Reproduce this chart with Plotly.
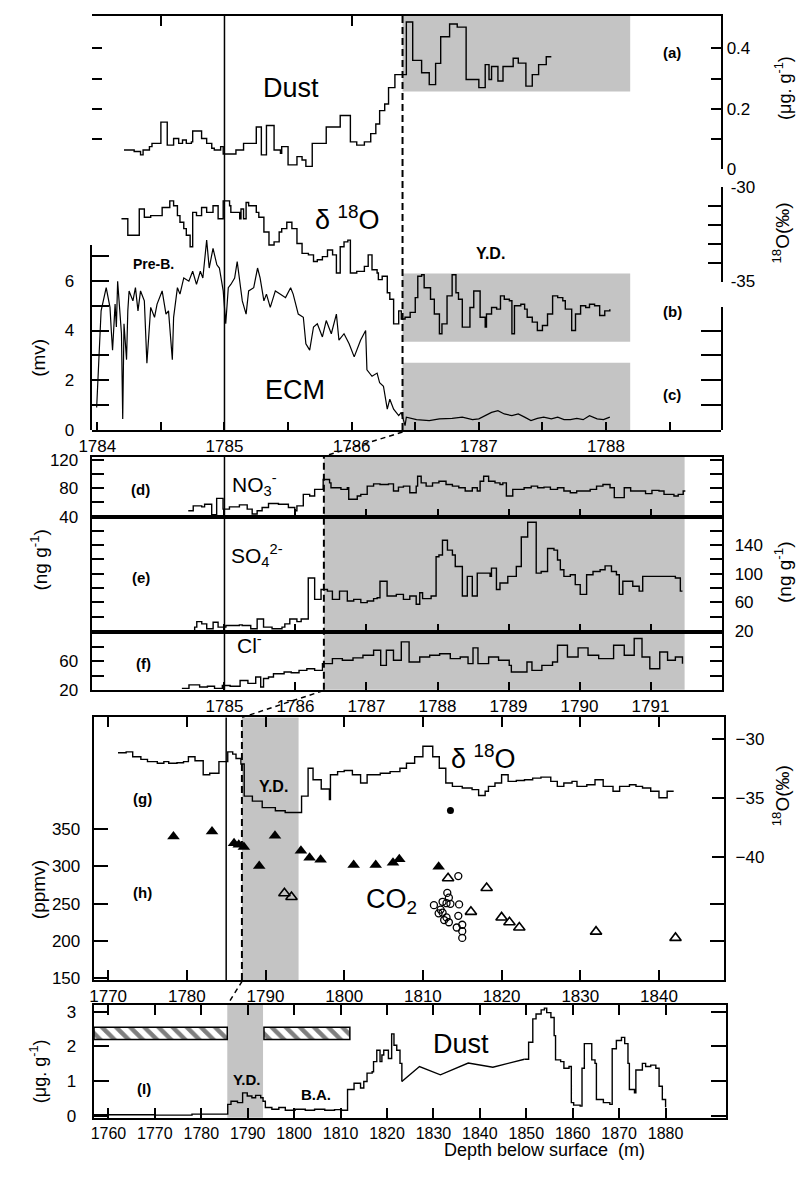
import plotly.graph_objects as go

W, H = 797, 1178
def fx(px): return px / W
def fy(py): return 1 - py / H

FONT = "Liberation Sans, Arial, Helvetica, sans-serif"
GRAY = "#c4c4c4"

# ---------------- (a) Dust, ug/g (step) ----------------
dust_a_depth = [1784.21, 1784.29, 1784.34, 1784.36, 1784.41, 1784.43, 1784.50, 1784.55, 1784.60, 1784.64,
                1784.67, 1784.70, 1784.74, 1784.75, 1784.82, 1784.86, 1784.90, 1784.92, 1784.97, 1784.99,
                1785.09, 1785.15, 1785.25, 1785.29, 1785.33, 1785.39, 1785.44, 1785.45, 1785.50, 1785.57,
                1785.61, 1785.64, 1785.69, 1785.80, 1785.91, 1785.99, 1786.04, 1786.10, 1786.15, 1786.19,
                1786.22, 1786.26, 1786.29, 1786.34, 1786.43, 1786.48, 1786.55, 1786.61, 1786.66, 1786.70,
                1786.77, 1786.83, 1786.90, 1787.00, 1787.05, 1787.08, 1787.10, 1787.15, 1787.19, 1787.27,
                1787.31, 1787.37, 1787.42, 1787.47, 1787.53, 1787.57]
dust_a_val = [0.064, 0.059, 0.048, 0.064, 0.075, 0.086, 0.156, 0.080, 0.102, 0.086,
              0.097, 0.086, 0.091, 0.127, 0.102, 0.086, 0.070, 0.064, 0.075, 0.051,
              0.064, 0.086, 0.140, 0.048, 0.145, 0.064, 0.053, 0.075, 0.015, 0.042,
              0.031, 0.010, 0.086, 0.140, 0.178, 0.091, 0.080, 0.091, 0.118, 0.150,
              0.194, 0.216, 0.270, 0.313, 0.487, 0.360, 0.319, 0.280, 0.350, 0.438,
              0.480, 0.470, 0.297, 0.270, 0.346, 0.297, 0.340, 0.292, 0.340, 0.367,
              0.351, 0.275, 0.313, 0.346, 0.372, 0.372]

# ---------------- (b) d18O (step) ----------------
d18o_b_depth = [1784.19, 1784.24, 1784.33, 1784.37, 1784.42, 1784.51, 1784.57, 1784.60, 1784.63, 1784.65,
                1784.68, 1784.70, 1784.73, 1784.75, 1784.78, 1784.82, 1784.86, 1784.91, 1784.95, 1784.99,
                1785.04, 1785.05, 1785.12, 1785.13, 1785.15, 1785.17, 1785.19, 1785.25, 1785.27, 1785.31,
                1785.35, 1785.39, 1785.43, 1785.45, 1785.49, 1785.53, 1785.57, 1785.61, 1785.66, 1785.70,
                1785.73, 1785.77, 1785.81, 1785.85, 1785.88, 1785.91, 1785.94, 1785.97, 1785.99, 1786.04,
                1786.10, 1786.13, 1786.16, 1786.20, 1786.21, 1786.24, 1786.28, 1786.30, 1786.33, 1786.37,
                1786.39, 1786.42, 1786.46, 1786.50, 1786.52, 1786.55, 1786.57, 1786.62, 1786.65, 1786.69,
                1786.71, 1786.75, 1786.79, 1786.82, 1786.84, 1786.87, 1786.93, 1786.96, 1787.01, 1787.05,
                1787.06, 1787.10, 1787.14, 1787.17, 1787.20, 1787.24, 1787.26, 1787.28, 1787.33, 1787.36,
                1787.38, 1787.42, 1787.46, 1787.50, 1787.54, 1787.58, 1787.62, 1787.66, 1787.68, 1787.73,
                1787.76, 1787.80, 1787.84, 1787.87, 1787.91, 1787.95, 1787.99, 1788.03]
d18o_b_val = [-31.68, -32.55, -31.16, -31.60, -31.51, -31.08, -30.73, -30.99, -31.51, -31.86,
              -32.20, -32.55, -33.16, -31.34, -31.51, -31.08, -31.34, -30.99, -31.68, -30.73,
              -30.99, -31.34, -31.68, -31.16, -31.68, -30.82, -30.99, -31.34, -31.60, -32.38,
              -33.07, -32.90, -32.38, -32.20, -31.86, -32.20, -32.99, -33.51, -33.59, -33.94,
              -33.85, -33.68, -33.33, -33.59, -34.55, -33.16, -32.90, -32.81, -34.55, -34.46,
              -34.20, -33.59, -34.38, -34.55, -34.90, -34.72, -35.59, -35.94, -37.24, -36.55,
              -36.98, -36.89, -36.63, -35.85, -34.72, -34.64, -35.33, -35.94, -36.72, -37.76,
              -37.24, -35.76, -34.64, -35.59, -35.94, -37.41, -36.37, -35.50, -36.89, -37.41,
              -36.72, -36.37, -36.46, -35.76, -35.94, -36.02, -37.76, -36.28, -36.20, -36.46,
              -36.89, -37.15, -37.59, -37.33, -36.72, -35.76, -35.85, -36.02, -36.46, -37.59,
              -36.72, -36.28, -36.37, -36.20, -36.28, -36.80, -36.55, -36.46]

# ---------------- (c) ECM, mV ----------------
ecm_depth = [1783.995, 1784.03, 1784.07, 1784.10, 1784.11, 1784.12, 1784.14, 1784.15, 1784.16, 1784.17,
             1784.19, 1784.20, 1784.21, 1784.23, 1784.24, 1784.25, 1784.28, 1784.30, 1784.32, 1784.34,
             1784.37, 1784.39, 1784.42, 1784.45, 1784.47, 1784.51, 1784.54, 1784.56, 1784.59, 1784.60,
             1784.63, 1784.65, 1784.68, 1784.72, 1784.75, 1784.78, 1784.81, 1784.83, 1784.86, 1784.88,
             1784.91, 1784.94, 1784.96, 1784.99, 1785.01, 1785.03, 1785.05, 1785.08, 1785.10, 1785.14,
             1785.17, 1785.19, 1785.23, 1785.26, 1785.28, 1785.31, 1785.33, 1785.36, 1785.40, 1785.44,
             1785.48, 1785.52, 1785.54, 1785.58, 1785.62, 1785.64, 1785.67, 1785.70, 1785.73, 1785.77,
             1785.80, 1785.84, 1785.88, 1785.90, 1785.94, 1785.98, 1786.02, 1786.07, 1786.11, 1786.12,
             1786.16, 1786.20, 1786.22, 1786.25, 1786.28, 1786.30, 1786.33, 1786.37, 1786.39, 1786.42,
             1786.43, 1786.51, 1786.61, 1786.69, 1786.79, 1786.87, 1786.95, 1787.00, 1787.05, 1787.10,
             1787.15, 1787.20, 1787.26, 1787.31, 1787.36, 1787.41, 1787.46, 1787.51, 1787.57, 1787.62,
             1787.67, 1787.72, 1787.77, 1787.82, 1787.87, 1787.93, 1787.98, 1788.03]
ecm_val = [0.91, 4.79, 5.72, 4.93, 4.00, 3.21, 5.06, 4.14, 5.98, 5.19,
           3.87, 0.45, 4.27, 2.83, 4.79, 5.59, 5.19, 5.72, 4.79, 5.59,
           5.19, 2.69, 4.93, 4.53, 5.06, 5.59, 4.66, 4.79, 2.83, 4.53,
           5.72, 5.46, 6.11, 5.98, 6.38, 5.85, 6.38, 6.11, 7.63, 6.51,
           7.30, 6.64, 6.51, 5.59, 4.27, 5.72, 5.85, 6.11, 6.77, 5.19,
           4.66, 5.59, 5.72, 6.51, 6.11, 5.19, 5.46, 4.93, 5.59, 5.46,
           5.32, 5.72, 5.46, 4.66, 4.53, 3.47, 3.21, 4.14, 4.27, 3.74,
           4.40, 3.87, 4.66, 3.61, 3.87, 3.47, 2.94, 3.61, 4.00, 2.42,
           2.16, 2.29, 1.90, 1.76, 0.84, 1.24, 0.84, 0.58, 0.71, 0.18,
           0.52, 0.42, 0.38, 0.45, 0.47, 0.52, 0.42, 0.45, 0.58, 0.71,
           0.78, 0.65, 0.58, 0.65, 0.52, 0.38, 0.47, 0.52, 0.45, 0.52,
           0.42, 0.42, 0.47, 0.42, 0.58, 0.45, 0.42, 0.52]

# ---------------- (d) NO3-, ng/g (step) ----------------
no3_depth = [1784.49, 1784.56, 1784.68, 1784.72, 1784.82, 1784.89, 1784.98, 1785.07, 1785.21, 1785.32,
             1785.39, 1785.46, 1785.53, 1785.62, 1785.76, 1785.90, 1785.99, 1786.02, 1786.11, 1786.20,
             1786.27, 1786.39, 1786.48, 1786.50, 1786.64, 1786.73, 1786.75, 1786.87, 1786.92, 1787.01,
             1787.10, 1787.19, 1787.31, 1787.38, 1787.45, 1787.52, 1787.61, 1787.70, 1787.72, 1787.77,
             1787.84, 1787.93, 1788.02, 1788.12, 1788.21, 1788.30, 1788.39, 1788.49, 1788.56, 1788.60,
             1788.65, 1788.72, 1788.81, 1788.88, 1788.92, 1788.97, 1789.06, 1789.22, 1789.32, 1789.41,
             1789.50, 1789.59, 1789.69, 1789.78, 1789.87, 1789.96, 1790.15, 1790.24, 1790.33, 1790.43,
             1790.49, 1790.63, 1790.72, 1790.93, 1791.02, 1791.12, 1791.19, 1791.33, 1791.39, 1791.46,
             1791.49]
no3_val = [48.3, 55.2, 53.8, 57.5, 42.8, 65.7, 50.6, 53.8, 56.6, 50.6,
           43.7, 48.3, 52.9, 58.4, 57.5, 52.9, 48.3, 55.2, 71.3, 69.0,
           78.2, 92.0, 87.4, 80.5, 78.2, 80.5, 64.4, 69.0, 71.3, 82.8,
           86.0, 85.1, 86.0, 75.9, 81.4, 82.8, 73.6, 82.8, 96.6, 87.4,
           82.8, 87.4, 89.7, 85.1, 82.8, 80.5, 75.9, 80.5, 75.9, 89.7,
           96.6, 89.7, 87.4, 85.1, 87.4, 69.0, 78.2, 80.5, 82.8, 80.5,
           81.4, 78.2, 80.5, 75.9, 73.6, 75.9, 78.2, 82.8, 85.1, 80.5,
           66.7, 80.5, 75.9, 72.3, 76.8, 75.9, 71.3, 69.0, 71.3, 75.9,
           75.9]

# ---------------- (e) SO4 2-, ng/g (step) ----------------
so4_depth = [1784.45, 1784.58, 1784.61, 1784.68, 1784.75, 1784.84, 1784.91, 1785.02, 1785.21, 1785.25,
             1785.37, 1785.46, 1785.55, 1785.67, 1785.81, 1785.85, 1785.92, 1786.02, 1786.08, 1786.18,
             1786.27, 1786.36, 1786.45, 1786.52, 1786.62, 1786.73, 1786.82, 1786.92, 1787.01, 1787.10,
             1787.15, 1787.19, 1787.29, 1787.42, 1787.52, 1787.61, 1787.70, 1787.75, 1787.79, 1787.91,
             1787.98, 1788.02, 1788.07, 1788.14, 1788.21, 1788.25, 1788.35, 1788.42, 1788.49, 1788.56,
             1788.74, 1788.76, 1788.83, 1788.88, 1788.99, 1789.11, 1789.18, 1789.27, 1789.39, 1789.46,
             1789.55, 1789.64, 1789.69, 1789.73, 1789.78, 1789.87, 1789.94, 1790.01, 1790.10, 1790.19,
             1790.29, 1790.36, 1790.45, 1790.52, 1790.56, 1790.61, 1790.75, 1790.84, 1790.89, 1791.35,
             1791.42, 1791.45]
so4_val = [19.5, 25.1, 32.9, 29.7, 22.8, 32.0, 25.1, 27.4, 28.3, 27.4,
           22.8, 36.6, 25.1, 22.8, 25.1, 29.7, 36.6, 32.9, 36.6, 94.0,
           64.1, 77.9, 75.6, 64.1, 75.6, 61.8, 64.1, 59.5, 61.8, 65.1,
           66.4, 89.4, 68.7, 71.0, 64.1, 68.7, 57.2, 73.3, 65.1, 68.7,
           123.9, 126.2, 146.9, 133.1, 126.2, 110.1, 68.7, 96.3, 68.7, 100.9,
           96.3, 107.8, 77.9, 87.1, 96.3, 110.1, 151.5, 172.2, 100.9, 103.2,
           135.4, 133.1, 119.3, 105.5, 96.3, 98.6, 84.8, 71.0, 98.6, 103.2,
           105.5, 111.0, 103.2, 98.6, 71.0, 89.4, 82.5, 75.6, 96.3, 94.0,
           75.6, 75.6]

# ---------------- (f) Cl-, ng/g (step) ----------------
cl_depth = [1784.40, 1784.50, 1784.65, 1784.76, 1784.86, 1784.97, 1785.08, 1785.22, 1785.33, 1785.44,
            1785.51, 1785.55, 1785.62, 1785.69, 1785.84, 1785.94, 1786.05, 1786.16, 1786.27, 1786.38,
            1786.52, 1786.66, 1786.81, 1786.95, 1787.10, 1787.20, 1787.28, 1787.38, 1787.49, 1787.60,
            1787.75, 1787.89, 1788.03, 1788.18, 1788.32, 1788.43, 1788.50, 1788.57, 1788.72, 1788.86,
            1789.01, 1789.04, 1789.26, 1789.33, 1789.47, 1789.62, 1789.69, 1789.83, 1789.98, 1790.12,
            1790.27, 1790.48, 1790.63, 1790.77, 1790.88, 1790.99, 1791.13, 1791.24, 1791.35, 1791.45]
cl_val = [22, 27, 24, 25, 22, 26, 25, 33, 29, 38,
          24, 36, 38, 42.6, 45, 44, 47.3, 49.6, 47.3, 56.7,
          63.7, 61.4, 64.8, 68.4, 75.5, 54.3, 75.5, 61.4, 87.3, 59,
          66, 68.4, 70.7, 63.7, 66, 56.7, 78.8, 56.7, 66, 61.4,
          54.3, 45, 59, 47.3, 54.3, 59, 82.6, 66, 78.8, 68.4,
          63.7, 82.6, 68.4, 92, 66, 49.6, 73, 61.4, 66, 56.7]

# ---------------- (g) d18O (step) ----------------
d18o_g_depth = [1771.25, 1772.29, 1773.12, 1774.16, 1775.00, 1776.25, 1777.08, 1777.70, 1778.75, 1779.58,
                1780.20, 1781.04, 1782.08, 1782.91, 1784.08, 1785.20, 1785.83, 1786.25, 1786.87, 1787.29,
                1788.33, 1789.58, 1791.25, 1792.50, 1794.58, 1795.41, 1796.04, 1797.08, 1798.12, 1798.25,
                1799.16, 1800.00, 1801.04, 1802.08, 1802.91, 1804.58, 1805.83, 1807.08, 1807.91, 1808.95,
                1810.00, 1811.25, 1812.08, 1812.91, 1813.75, 1815.00, 1816.25, 1817.08, 1817.91, 1818.33,
                1819.16, 1820.00, 1820.83, 1821.87, 1822.91, 1823.95, 1825.00, 1826.25, 1827.08, 1827.91,
                1828.95, 1829.58, 1830.83, 1831.87, 1832.91, 1834.16, 1835.00, 1836.25, 1837.08, 1837.91,
                1838.95, 1840.00, 1841.04, 1841.87]
d18o_g_val = [-31.19, -31.11, -31.53, -31.75, -31.94, -32.08, -31.94, -32.08, -32.03, -31.94,
              -31.53, -31.86, -33.05, -32.92, -31.94, -31.11, -31.30, -31.67, -32.14, -34.86,
              -35.28, -35.83, -36.10, -36.25, -34.86, -32.50, -33.47, -34.25, -35.14, -33.05,
              -32.78, -32.69, -33.05, -33.75, -33.05, -32.92, -32.78, -32.50, -32.08, -31.53,
              -30.64, -31.53, -32.50, -33.75, -34.03, -34.17, -34.31, -34.81, -34.44, -34.03,
              -33.75, -33.05, -33.61, -33.53, -33.47, -33.33, -33.25, -33.61, -34.03, -33.75,
              -33.61, -34.03, -33.89, -33.47, -34.03, -34.44, -34.03, -33.89, -34.03, -34.17,
              -34.44, -35.00, -34.44, -34.44]

# ---------------- (h) CO2, ppmv ----------------
co2_fill_tri_depth = [1778.3, 1783.2, 1786.0, 1786.6, 1787.25, 1789.2, 1791.2, 1794.5, 1795.6, 1797.0,
                      1801.2, 1804.0, 1806.2, 1807.0, 1812.0]
co2_fill_tri_ppm = [340, 347, 331, 329, 326, 300.5, 341, 321, 311.5, 309,
                    302, 302, 305, 309.6, 299.5]
co2_open_tri_depth = [1792.4, 1793.3, 1813.2, 1816.1, 1818.1, 1820.0, 1821.0, 1822.25, 1832.0, 1842.1]
co2_open_tri_ppm = [264, 259, 284, 239, 271, 231.5, 225, 218, 212.4, 204]
co2_circle_depth = [1814.5, 1813.1, 1813.3, 1812.5, 1811.4, 1813.0, 1813.5, 1814.6, 1812.25, 1812.5,
                    1813.0, 1813.3, 1814.5, 1814.3, 1815.0, 1815.0, 1815.0, 1812.0, 1812.7]
co2_circle_ppm = [287, 264.4, 258, 252.5, 248, 250.6, 249.7, 249, 242, 238,
                  231.5, 225, 233.6, 218, 221.7, 213, 204, 237, 228]
co2_dot_depth = [1813.5]
co2_dot_ppm = [375]

# ---------------- (i) Dust, ug/g ----------------
dust_i_step1_depth = [1756.9, 1770.0, 1778.0, 1785.7, 1786.4, 1787.8, 1788.9, 1789.9, 1790.9, 1791.7,
                      1792.8, 1793.3, 1793.8, 1795.2, 1796.7, 1798.1, 1800.2, 1802.4, 1804.4, 1806.6,
                      1808.7, 1810.2, 1811.5, 1812.9, 1814.3, 1815.0, 1815.7, 1816.8, 1817.1, 1817.8,
                      1818.5, 1818.9, 1819.3, 1820.3, 1821.0, 1821.5, 1822.1, 1822.8, 1823.2]
dust_i_step1_val = [0.03, 0.02, 0.05, 0.33, 0.42, 0.38, 0.66, 0.57, 0.52, 0.59,
                    0.52, 0.42, 0.24, 0.19, 0.24, 0.16, 0.19, 0.16, 0.19, 0.16,
                    0.18, 0.16, 0.76, 0.94, 0.80, 0.99, 1.23, 1.27, 1.56, 1.89,
                    1.56, 1.75, 1.89, 1.65, 2.36, 2.03, 1.89, 1.51, 0.99]
dust_i_line_depth = [1823.2, 1827.0, 1831.5, 1837.5, 1842.8, 1849.6]
dust_i_line_val = [0.99, 1.42, 1.18, 1.52, 1.40, 1.63]
dust_i_step2_depth = [1849.6, 1850.5, 1851.4, 1852.1, 1853.2, 1853.9, 1854.4, 1855.3, 1856.0, 1856.3,
                      1857.4, 1858.1, 1859.2, 1859.7, 1860.2, 1861.6, 1862.0, 1862.5, 1863.7, 1864.1,
                      1864.8, 1865.1, 1866.6, 1868.0, 1868.5, 1869.4, 1870.5, 1871.2, 1871.9, 1872.2,
                      1873.3, 1873.6, 1875.0, 1875.7, 1876.8, 1877.9, 1878.6, 1879.3, 1880.0]
dust_i_step2_val = [1.63, 2.12, 2.79, 2.93, 3.05, 3.10, 2.97, 2.83, 2.31, 1.61,
                    1.56, 1.37, 1.42, 0.38, 0.31, 0.28, 1.37, 2.08, 2.08, 1.61,
                    1.51, 0.47, 0.38, 0.33, 1.93, 2.17, 2.26, 2.08, 1.51, 0.76,
                    0.66, 1.32, 1.51, 1.42, 1.46, 1.37, 0.85, 0.47, 0.25]
hatch_start = [1756.9, 1793.5]
hatch_end = [1785.6, 1812.0]
hatch_low, hatch_high = 2.2, 2.55

# Younger Dryas shaded intervals (depth, m) and reference depths
yd_top = (1786.4, 1788.19)
yd_top_dust = (0.257, 0.507)
yd_top_d18o = (-38.18, -34.58)
yd_top_ecm = (0.0, 2.7)
yd_mid = (1786.4, 1791.48)
yd_g = (1787.0, 1794.2)
yd_i = (1785.6, 1793.3)
ref_depth = 1785.0

# ---------------- figure ----------------
fig = go.Figure()

def step(x, y, xa, ya, shape='hv', w=1.4):
    fig.add_trace(go.Scatter(x=x, y=y, xaxis=xa, yaxis=ya, mode='lines',
                             line=dict(color='black', width=w, shape=shape),
                             hoverinfo='skip', showlegend=False))

def dummy(xa, ya):
    fig.add_trace(go.Scatter(x=[None], y=[None], xaxis=xa, yaxis=ya, mode='markers',
                             hoverinfo='skip', showlegend=False))

step(dust_a_depth, dust_a_val, 'x', 'y')
step(d18o_b_depth, d18o_b_val, 'x', 'y2')
step(ecm_depth, ecm_val, 'x', 'y3', shape='linear', w=1.2)
step(no3_depth, no3_val, 'x2', 'y8')
step(so4_depth, so4_val, 'x3', 'y9')
step(cl_depth, cl_val, 'x4', 'y10')
step(d18o_g_depth, d18o_g_val, 'x6', 'y12')
step(dust_i_step1_depth, dust_i_step1_val, 'x7', 'y14')
step(dust_i_line_depth, dust_i_line_val, 'x7', 'y14', shape='linear')
step(dust_i_step2_depth, dust_i_step2_val, 'x7', 'y14')

def pts(x, y, symbol, size, lw=1.3):
    fig.add_trace(go.Scatter(x=x, y=y, xaxis='x6', yaxis='y11', mode='markers',
                             marker=dict(symbol=symbol, size=size, color='black',
                                         line=dict(color='black', width=lw)),
                             hoverinfo='skip', showlegend=False))

pts(co2_fill_tri_depth, co2_fill_tri_ppm, 'triangle-up', 11, 0)
pts(co2_open_tri_depth, co2_open_tri_ppm, 'triangle-up-open', 10, 1.6)
pts(co2_circle_depth, co2_circle_ppm, 'circle-open', 7, 1.3)
pts(co2_dot_depth, co2_dot_ppm, 'circle', 7, 0)

fig.add_trace(go.Bar(
    orientation='h', xaxis='x7', yaxis='y14',
    y=[(hatch_low + hatch_high) / 2] * len(hatch_start),
    base=hatch_start, x=[e - s for s, e in zip(hatch_start, hatch_end)],
    width=hatch_high - hatch_low,
    marker=dict(color='white', line=dict(color='black', width=1.5),
                pattern=dict(shape='\\', fgcolor='black', bgcolor='white', size=10, solidity=0.45)),
    hoverinfo='skip', showlegend=False))

for xa, ya in [('x', 'y4'), ('x5', 'y'), ('x', 'y5'), ('x', 'y6'), ('x', 'y7'), ('x6', 'y13')]:
    dummy(xa, ya)

def ax(**kw):
    base = dict(type='linear', showgrid=False, zeroline=False, linecolor='black', linewidth=2,
                ticks='inside', tickcolor='black', tickwidth=1.5, fixedrange=True,
                tickfont=dict(family=FONT, size=17, color='black'))
    base.update(kw)
    return base

X1R = [1783.956, 1788.906]
x1_ticks = [1784 + 0.5 * i for i in range(10)]
X2R = [1783.13, 1792.01]
X3R = [1768.16, 1848.29]
X4R = [1756.82, 1893.05]
DUSTR = [0, 0.507]

layout = dict(
    width=W, height=H, margin=dict(l=0, r=0, t=0, b=0),
    paper_bgcolor='white', plot_bgcolor='rgba(0,0,0,0)', showlegend=False,
    font=dict(family=FONT, color='black'),
    # panel a-c
    xaxis=ax(domain=[fx(80), fx(720)], range=X1R, anchor='y3', showline=True, ticklen=8,
             tickvals=x1_ticks, ticktext=[str(int(v)) if v == int(v) else '' for v in x1_ticks]),
    xaxis5=ax(overlaying='x', anchor='y', side='top', range=X1R, showline=True, ticklen=10,
              tickvals=[1784.5, 1786], showticklabels=False),
    yaxis=ax(domain=[fy(163), fy(7)], range=DUSTR, anchor='x', side='right', showline=True, ticklen=10,
             tickvals=[0, 0.1, 0.2, 0.3, 0.4], ticktext=['0', '', '0.2', '', '0.4']),
    yaxis4=ax(overlaying='y', anchor='x', side='left', range=DUSTR, showline=False, ticklen=10,
              tickvals=[0, 0.1, 0.2, 0.3, 0.4], showticklabels=False),
    yaxis2=dict(domain=[fy(345), fy(175)], range=[-38.54, -29.69], anchor='x', visible=False, fixedrange=True),
    yaxis5=ax(domain=[fy(277), fy(181)], range=[-35, -30], anchor='x', side='right', showline=True, ticklen=13,
              ticklabelstandoff=4,
              tickvals=[-35, -34, -33, -32, -31, -30], ticktext=['-35', '', '', '', '', '-30']),
    yaxis3=dict(domain=[fy(428), fy(200)], range=[0, 9.01], anchor='x', visible=False, fixedrange=True),
    yaxis6=ax(domain=[fy(428), fy(240)], range=[0, 7.43], anchor='x', side='left', showline=True, ticklen=17,
              ticklabelstandoff=12,
              tickvals=list(range(8)), ticktext=['0', '', '2', '', '4', '', '6', '']),
    yaxis7=ax(domain=[fy(428), fy(303)], range=[0, 4.94], anchor='x', side='right', showline=True, ticklen=20,
              tickvals=[1, 2, 3, 4], showticklabels=False),
    # panel d-f
    xaxis2=ax(domain=[fx(80), fx(721)], range=X2R, anchor='y8', showline=True, mirror=True, ticklen=8,
              linewidth=1.6, tickvals=list(range(1785, 1792)), showticklabels=False),
    xaxis3=ax(domain=[fx(80), fx(721)], range=X2R, anchor='y9', showline=True, mirror=True, ticklen=8,
              linewidth=1.6, tickvals=list(range(1785, 1792)), showticklabels=False),
    xaxis4=ax(domain=[fx(80), fx(721)], range=X2R, anchor='y10', showline=True, mirror=True, ticklen=8,
              linewidth=1.6, tickvals=list(range(1785, 1792))),
    yaxis8=ax(domain=[fy(516), fy(455)], range=[40, 124.1], anchor='x2', side='left', showline=True,
              mirror='ticks', ticklen=12, ticklabelstandoff=8,
              tickvals=[40, 60, 80, 100, 120], ticktext=['40', '', '80', '', '120']),
    yaxis9=ax(domain=[fy(633), fy(516)], range=[18.6, 180], anchor='x3', side='right', showline=True,
              mirror='ticks', ticklen=12, ticklabelstandoff=7, tickvals=[20, 40, 60, 80, 100, 120, 140, 160],
              ticktext=['20', '', '60', '', '100', '', '140', '']),
    yaxis10=ax(domain=[fy(692), fy(633)], range=[20, 101.4], anchor='x4', side='left', showline=True,
               mirror='ticks', ticklen=12, ticklabelstandoff=8,
               tickvals=[20, 40, 60, 80], ticktext=['20', '', '60', '']),
    # panel g-h
    xaxis6=ax(domain=[fx(82), fx(723)], range=X3R, anchor='y11', showline=True, mirror='ticks', ticklen=10,
              tickvals=list(range(1770, 1841, 10))),
    yaxis11=ax(domain=[fy(987), fy(720)], range=[147.4, 500], anchor='x6', side='left', showline=True,
               ticklen=14, ticklabelstandoff=8, tickvals=[150, 200, 250, 300, 350]),
    yaxis12=ax(overlaying='y11', anchor='x6', side='right', range=[-50.44, -28.19], showline=True,
               ticklen=12, ticklabelstandoff=6, tickvals=[-40, -35, -30]),
    yaxis13=ax(overlaying='y11', anchor='x6', side='right', range=[147.4, 500], showline=False,
               ticklen=14, tickvals=[200, 250], showticklabels=False),
    # panel i
    xaxis7=ax(domain=[fx(82), fx(725)], range=X4R, anchor='y14', showline=True, mirror='ticks', ticklen=10,
              tickvals=list(range(1760, 1881, 10)), tickfont=dict(family=FONT, size=16, color='black')),
    yaxis14=ax(domain=[fy(1127), fy(1012)], range=[-0.057, 3.2], anchor='x7', side='left', showline=True,
               mirror='ticks', ticklen=15, ticklabelstandoff=12, tickvals=[0, 1, 2, 3]),
)

shapes = []
def rect(xref, x0, x1, yref, y0, y1):
    shapes.append(dict(type='rect', xref=xref, yref=yref, x0=x0, x1=x1, y0=y0, y1=y1,
                       fillcolor=GRAY, line=dict(width=0), layer='below'))

rect('x', yd_top[0], yd_top[1], 'y', yd_top_dust[0], yd_top_dust[1])
rect('x', yd_top[0], yd_top[1], 'y2', yd_top_d18o[0], yd_top_d18o[1])
rect('x', yd_top[0], yd_top[1], 'y3', yd_top_ecm[0], yd_top_ecm[1])
rect('x2', yd_mid[0], yd_mid[1], 'paper', fy(692), fy(455))
rect('x6', yd_g[0], yd_g[1], 'paper', fy(987), fy(720))
rect('x7', yd_i[0], yd_i[1], 'paper', fy(1127), fy(1012))

def vline(xref, x, y0, y1, dash=None, w=1.5):
    ln = dict(color='black', width=w)
    if dash:
        ln['dash'] = dash
    shapes.append(dict(type='line', xref=xref, yref='paper', x0=x, x1=x, y0=fy(y0), y1=fy(y1), line=ln))

vline('x', ref_depth, 428, 7)
vline('x2', ref_depth, 692, 455)
vline('x6', ref_depth, 987, 720)
vline('x', yd_top[0], 428, 7, dash='7px,4px', w=2)
vline('x2', yd_mid[0], 692, 455, dash='7px,4px', w=2)
vline('x6', yd_g[0], 987, 720, dash='7px,4px', w=2)

for (ax0, ay0, ax1, ay1) in [(396, 430, 315, 455), (315, 693, 233, 720), (233, 988, 218, 1012)]:
    shapes.append(dict(type='line', xref='paper', yref='paper', x0=fx(ax0), y0=fy(ay0),
                       x1=fx(ax1), y1=fy(ay1), line=dict(color='black', width=1.5, dash='5px,4px')))

layout['shapes'] = shapes

anns = []
def ann(text, px, py, size=17, bold=False, angle=0):
    anns.append(dict(text=('<b>' + text + '</b>') if bold else text, x=fx(px), y=fy(py),
                     xref='paper', yref='paper', showarrow=False, textangle=angle,
                     xanchor='center', yanchor='middle',
                     font=dict(family=FONT, size=size, color='black')))

# panel a-c
ann('Dust', 283, 80, 27)
ann('δ <sup>18</sup>O', 340, 212, 27)
ann('ECM', 287, 387, 27)
ann('Pre-B.', 143, 259, 14, bold=True)
ann('Y.D.', 485, 248, 16, bold=True)
ann('(a)', 670, 44, 15, bold=True)
ann('(b)', 670, 307, 15, bold=True)
ann('(c)', 670, 392, 15, bold=True)
ann('(mv)', 26, 355, 19, angle=-90)
ann('(μg. g<sup>-1</sup>)', 784, 80, 18, angle=-90)
ann('<sup>18</sup>O(‰)', 781, 228, 19, angle=-90)
# panel d-f
ann('(d)', 130, 488, 15, bold=True)
ann('(e)', 130, 578, 15, bold=True)
ann('(f)', 133, 665, 15, bold=True)
ann('NO<sub>3</sub><sup>-</sup>', 245, 483, 21)
ann('SO<sub>4</sub><sup>2-</sup>', 248, 555, 21)
ann('Cl<sup>-</sup>', 240, 645, 21)
ann('(ng g<sup>-1</sup>)', 26, 560, 19, angle=-90)
ann('(ng g<sup>-1</sup>)', 783, 573, 19, angle=-90)
# panel g-h
ann('(g)', 132, 802, 15, bold=True)
ann('(h)', 132, 898, 15, bold=True)
ann('Y.D.', 265, 790, 16, bold=True)
ann('δ <sup>18</sup>O', 478, 760, 27)
ann('CO<sub>2</sub>', 385, 907, 27)
ann('(ppmv)', 26, 895, 19, angle=-90)
ann('<sup>18</sup>O(‰)', 781, 800, 19, angle=-90)
# panel i
ann('(I)', 133, 1097, 15, bold=True)
ann('Y.D.', 238, 1088, 15, bold=True)
ann('B.A.', 308, 1103, 15, bold=True)
ann('Dust', 455, 1052, 27)
ann('(μg. g<sup>-1</sup>)', 26, 1080, 18, angle=-90)
ann('Depth below surface  (m)', 540, 1160, 18)

layout['annotations'] = anns
fig.update_layout(**layout)
fig.write_html("out.html", config={'displayModeBar': False},
               post_script="document.documentElement.style.overflow='hidden';"
                           "document.body.style.margin='0';document.body.style.overflow='hidden';")
